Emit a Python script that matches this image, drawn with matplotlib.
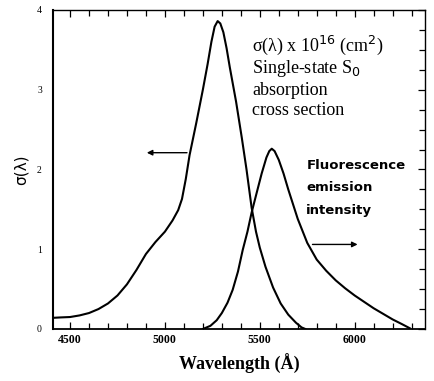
import numpy as np
import matplotlib
matplotlib.use('Agg')
import matplotlib.pyplot as plt
from matplotlib.ticker import MultipleLocator

# absorption cross section sigma(lambda) x 1e16 cm^2
abs_wl = [4410, 4450, 4500, 4550, 4600, 4650, 4700, 4750, 4800, 4850,
          4900, 4950, 5000, 5040, 5070, 5090, 5110, 5130, 5165, 5200,
          5225, 5245, 5262, 5278, 5292, 5308, 5325, 5342, 5375, 5405,
          5430, 5457, 5480, 5500, 5530, 5570, 5610, 5650, 5690, 5720, 5740]
abs_sig = [0.14, 0.145, 0.15, 0.17, 0.20, 0.25, 0.32, 0.42, 0.56, 0.74,
           0.94, 1.09, 1.22, 1.36, 1.49, 1.63, 1.88, 2.18, 2.58, 3.00,
           3.32, 3.60, 3.79, 3.86, 3.83, 3.72, 3.52, 3.28, 2.85, 2.40,
           2.00, 1.52, 1.22, 1.02, 0.78, 0.52, 0.32, 0.18, 0.08, 0.02, 0.00]

# fluorescence emission intensity (same vertical scale)
fl_wl = [5200, 5240, 5273, 5300, 5330, 5357, 5385, 5410, 5435, 5457,
         5485, 5510, 5535, 5550, 5563, 5578, 5600, 5625, 5650, 5700,
         5750, 5800, 5850, 5900, 5950, 6000, 6050, 6100, 6150, 6200,
         6250, 6290]
fl_int = [0.00, 0.04, 0.11, 0.20, 0.33, 0.49, 0.72, 0.99, 1.22, 1.46,
          1.72, 1.95, 2.15, 2.23, 2.26, 2.23, 2.12, 1.95, 1.75, 1.38,
          1.08, 0.87, 0.73, 0.61, 0.51, 0.42, 0.34, 0.26, 0.19, 0.12,
          0.06, 0.01]

xticks = [4500, 5000, 5500, 6000]
xticklabels = ['4500', '5000', '5500', '6000']
yticks = [0, 1, 2, 3, 4]

fig = plt.figure(figsize=(4.34, 3.81), dpi=100)
ax = fig.add_axes([0.122, 0.1365, 0.857, 0.8375])

ax.plot(abs_wl, abs_sig, color='black', linewidth=1.5, solid_joinstyle='round')
ax.plot(fl_wl, fl_int, color='black', linewidth=1.5, solid_joinstyle='round')

ax.set_xlim(4410, 6370)
ax.set_ylim(0, 4)
ax.set_xticks(xticks)
ax.set_xticklabels(xticklabels, family='Liberation Serif', fontsize=8.5, fontweight='bold')
ax.set_yticks(yticks)
ax.set_yticklabels([str(v) for v in yticks], family='Liberation Serif', fontsize=7)
ax.xaxis.set_minor_locator(MultipleLocator(100))
ax.yaxis.set_minor_locator(MultipleLocator(0.25))
ax.tick_params(which='both', direction='in', top=True, right=True, width=0.9)
ax.tick_params(which='major', length=5)
ax.tick_params(which='minor', length=4, left=False)
ax.tick_params(axis='y', which='major', left=False, pad=8)
for sp in ax.spines.values():
    sp.set_linewidth(1.0)
ax.spines['left'].set_linewidth(1.5)
ax.spines['bottom'].set_linewidth(1.3)

ax.set_xlabel('Wavelength (Å)', family='Liberation Serif', fontsize=13, fontweight='bold', labelpad=6)
ax.set_ylabel('σ(λ)', family='DejaVu Sans', fontsize=11, labelpad=6)

serif = dict(family='Liberation Serif', fontsize=13, va='center', ha='left')
ax.text(5460, 3.55, r'σ(λ) x 10$^{16}$ (cm$^{2}$)', **serif)
ax.text(5460, 3.27, r'Single-state S$_{0}$', **serif)
ax.text(5460, 2.99, 'absorption', **serif)
ax.text(5460, 2.74, 'cross section', **serif)

sans = dict(family='DejaVu Sans', fontsize=9.5, fontweight='bold', va='center', ha='left')
ax.text(5745, 2.05, 'Fluorescence', **sans)
ax.text(5745, 1.77, 'emission', **sans)
ax.text(5745, 1.49, 'intensity', **sans)

ax.annotate('', xy=(4890, 2.21), xytext=(5131, 2.21),
            arrowprops=dict(arrowstyle='-|>', color='black', lw=1.0, mutation_scale=8))
ax.annotate('', xy=(6030, 1.06), xytext=(5763, 1.06),
            arrowprops=dict(arrowstyle='-|>', color='black', lw=1.0, mutation_scale=8))

fig.savefig('out.png', dpi=100)
